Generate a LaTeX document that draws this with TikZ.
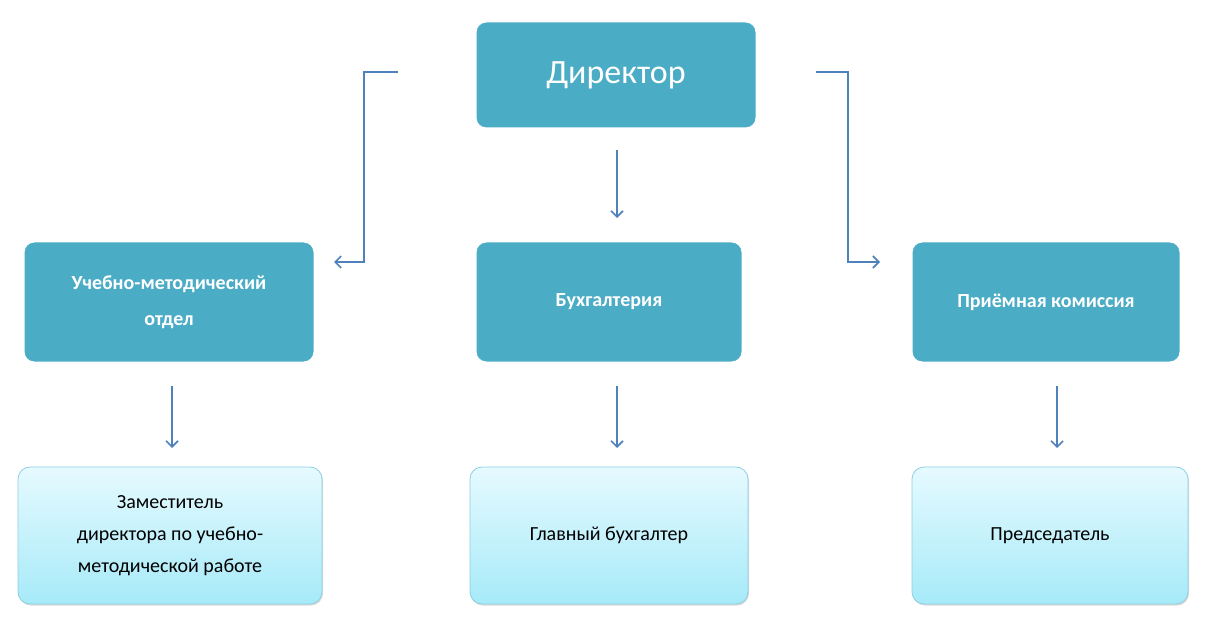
\documentclass[tikz,border=0pt]{standalone}
\usepackage{fontspec}
\setmainfont{Carlito}
\usetikzlibrary{arrows.meta,shadows}
\definecolor{teal}{HTML}{4BACC6}
\definecolor{arr}{HTML}{4F81BD}
\definecolor{ltop}{HTML}{E6FAFF}
\definecolor{lbot}{HTML}{A6EAF8}
\definecolor{lbrd}{HTML}{8CCFE0}
\tikzset{
 darkbox/.style={draw=white,line width=5pt,fill=teal,rounded corners=12pt,text=white,align=center,
   drop shadow={shadow xshift=0pt,shadow yshift=-2pt,opacity=0.35}},
 lightbox/.style={draw=lbrd,line width=0.8pt,top color=ltop,bottom color=lbot,rounded corners=12pt,align=center,
   drop shadow={shadow xshift=1pt,shadow yshift=-1.5pt,opacity=0.3}},
 conn/.style={draw=arr,line width=1.6pt,-{Straight Barb[length=6pt,width=12pt]}}
}
\begin{document}
\begin{tikzpicture}[x=1pt,y=-1pt]
\useasboundingbox (0,0) rectangle (1210,620);
\node[darkbox,minimum width=284pt,minimum height=110pt,font=\fontsize{34}{40}\selectfont] (dir) at (616,75) {Директор};
\node[darkbox,minimum width=294pt,minimum height=124pt,font=\bfseries\fontsize{20}{36}\selectfont] (uch) at (169,302) {Учебно-методический\\отдел};
\node[darkbox,minimum width=270pt,minimum height=124pt,font=\bfseries\fontsize{20}{24}\selectfont] (buh) at (609,302) {Бухгалтерия};
\node[darkbox,minimum width=272pt,minimum height=124pt,font=\bfseries\fontsize{20}{24}\selectfont] (pri) at (1046,302) {Приёмная комиссия};
\node[lightbox,minimum width=304pt,minimum height=137pt,font=\fontsize{20}{32}\selectfont] (zam) at (170,535.5) {Заместитель\\директора по учебно-\\методической работе};
\node[lightbox,minimum width=278pt,minimum height=137pt,font=\fontsize{20}{24}\selectfont] (gl) at (609,535.5) {Главный бухгалтер};
\node[lightbox,minimum width=276pt,minimum height=137pt,font=\fontsize{20}{24}\selectfont] (pred) at (1050,535.5) {Председатель};
\coordinate (l0) at (398,72); \coordinate (l1) at (334,262);
\coordinate (r0) at (816,72); \coordinate (r1) at (880,262);
\coordinate (c0) at (617,150); \coordinate (c1) at (617,218);
\coordinate (a0) at (172,386); \coordinate (a1) at (172,448);
\coordinate (b0) at (617,386); \coordinate (b1) at (617,448);
\coordinate (d0) at (1057,386); \coordinate (d1) at (1057,448);
\draw[conn] (l0) -- (364,72) -- (364,262) -- (l1);
\draw[conn] (r0) -- (848,72) -- (848,262) -- (r1);
\draw[conn] (c0) -- (c1);
\draw[conn] (a0) -- (a1);
\draw[conn] (b0) -- (b1);
\draw[conn] (d0) -- (d1);
\end{tikzpicture}
\end{document}
